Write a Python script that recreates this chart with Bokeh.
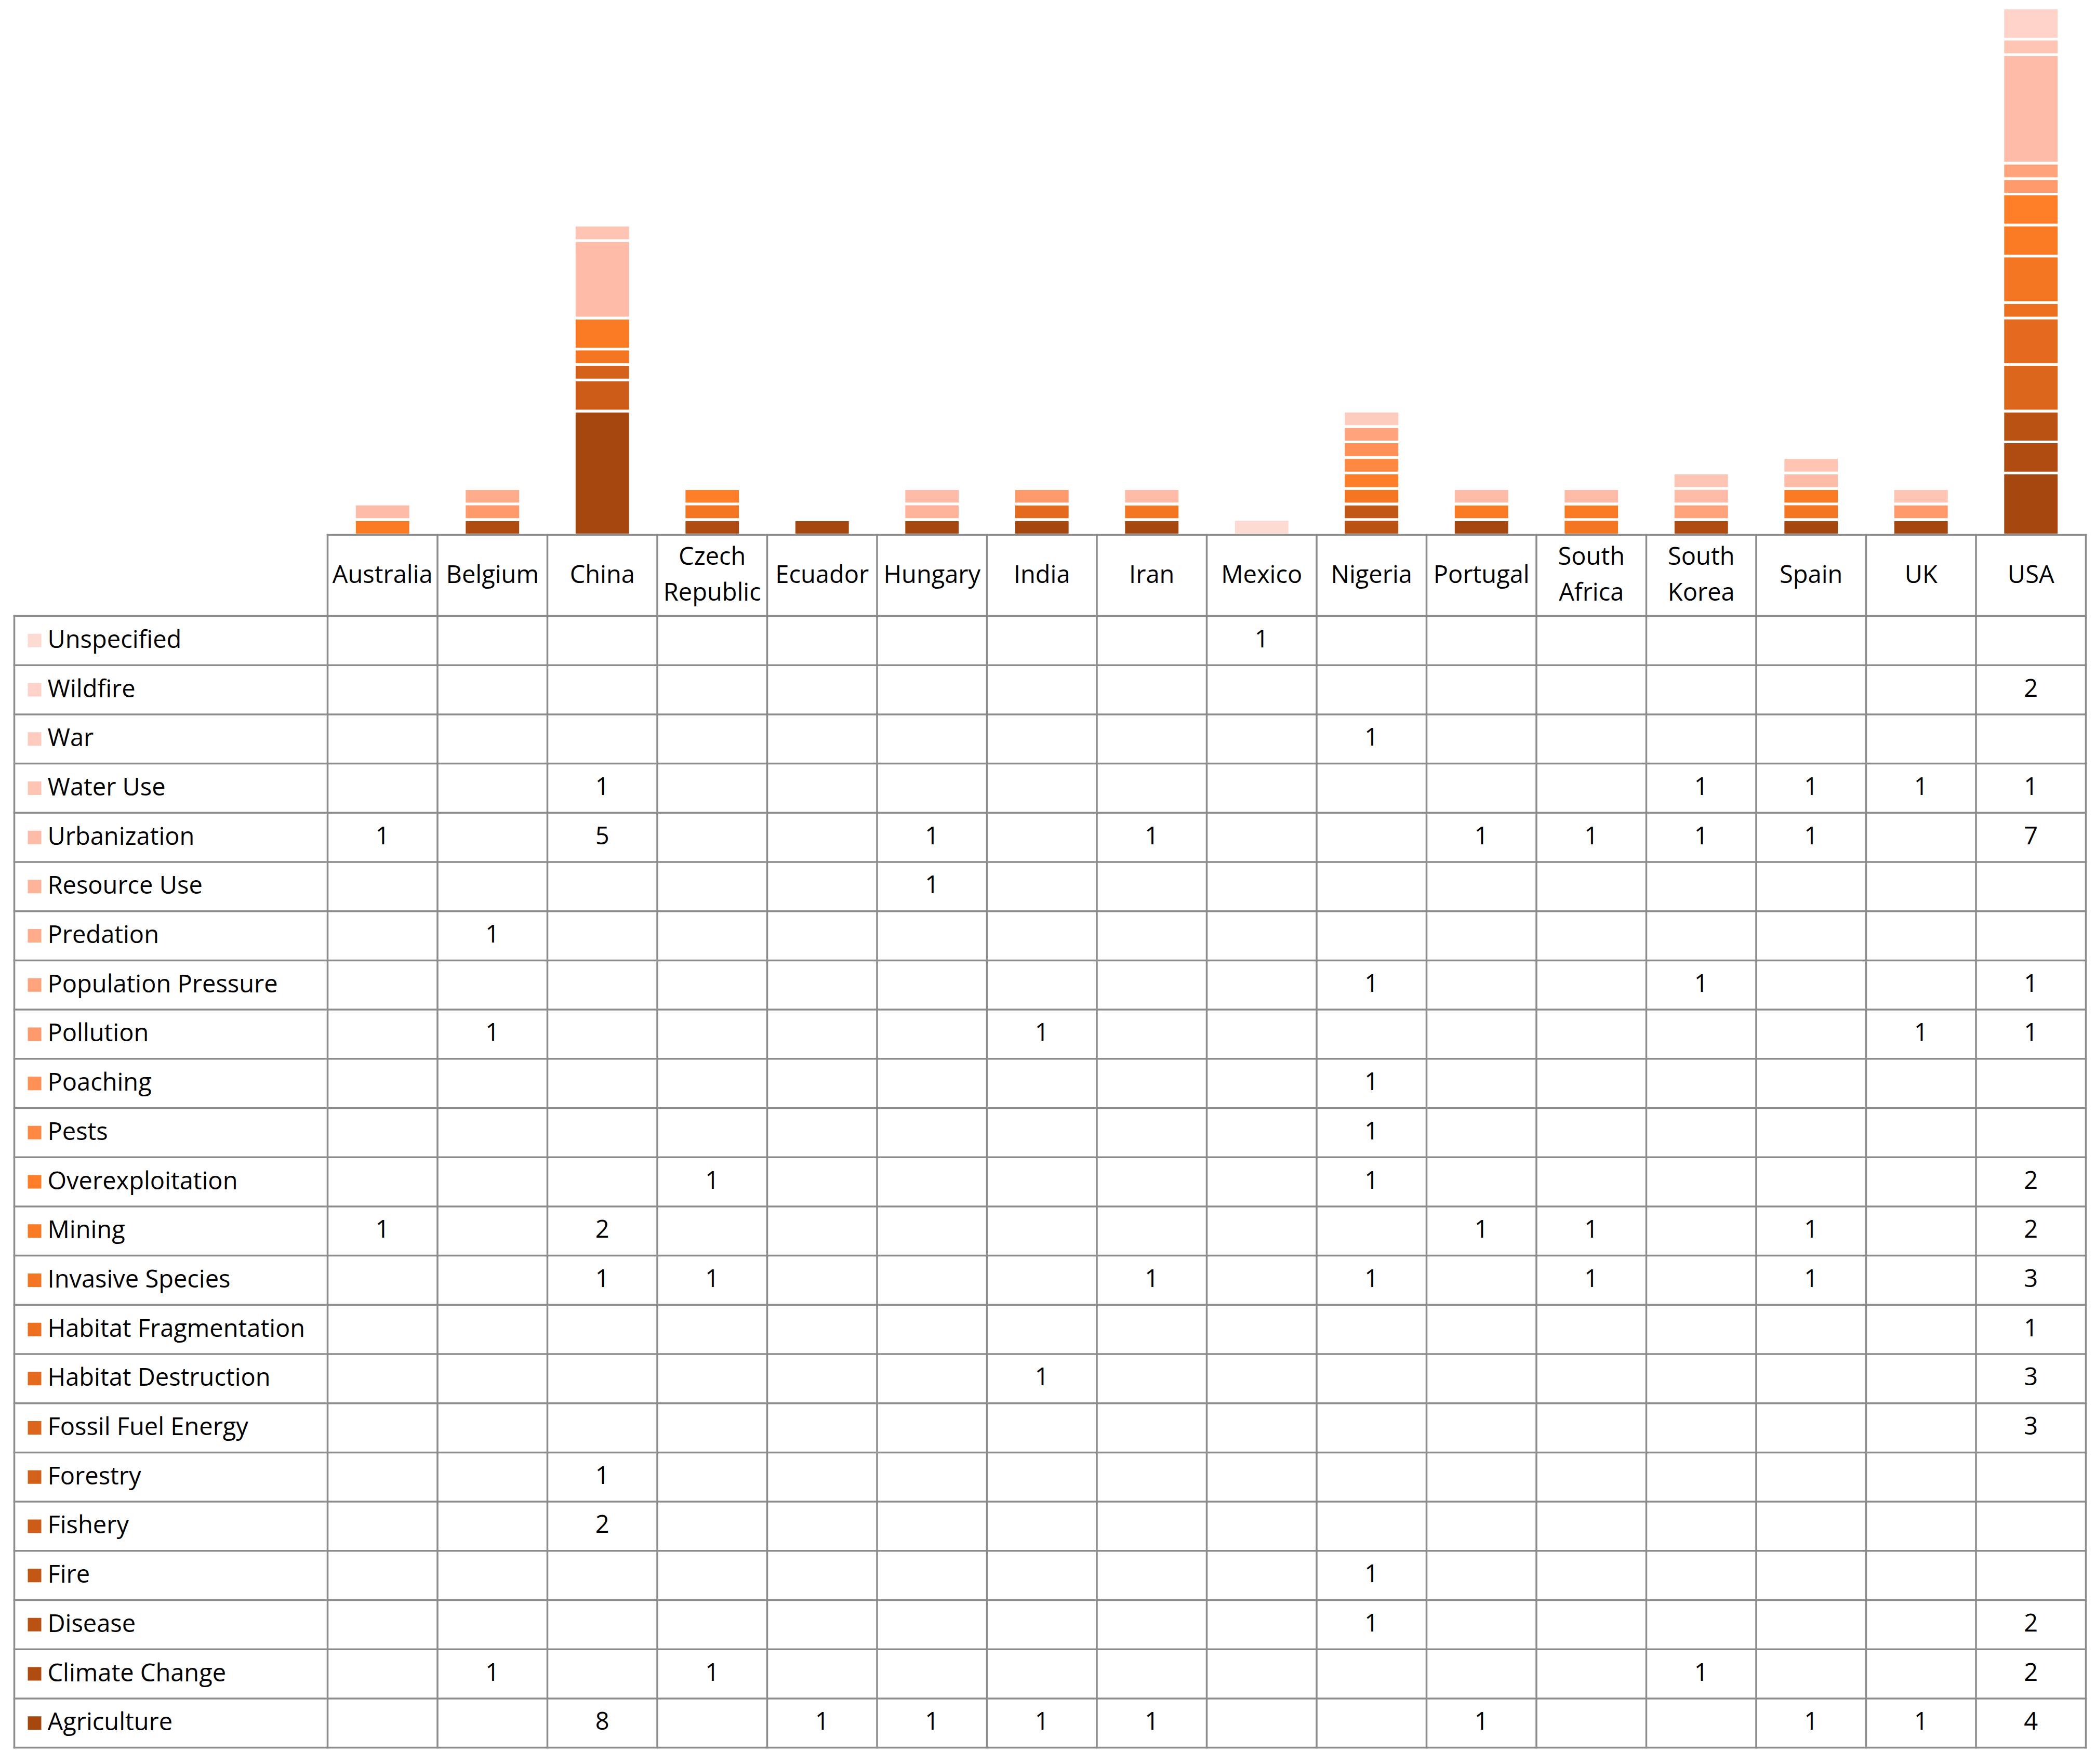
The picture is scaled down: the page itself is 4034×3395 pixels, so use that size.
from bokeh.plotting import figure
from bokeh.models import Range1d, ColumnDataSource
from bokeh.core.properties import value
from bokeh.embed import file_html
from bokeh.resources import INLINE

# ---------------- data ----------------
countries = ["Australia", "Belgium", "China", "Czech Republic", "Ecuador", "Hungary",
             "India", "Iran", "Mexico", "Nigeria", "Portugal", "South Africa",
             "South Korea", "Spain", "UK", "USA"]
header_labels = ["Australia", "Belgium", "China", "Czech\nRepublic", "Ecuador", "Hungary",
                 "India", "Iran", "Mexico", "Nigeria", "Portugal", "South\nAfrica",
                 "South\nKorea", "Spain", "UK", "USA"]

# series listed bottom (first stacked) to top
series_names = ["Agriculture", "Climate Change", "Disease", "Fire", "Fishery", "Forestry",
                "Fossil Fuel Energy", "Habitat Destruction", "Habitat Fragmentation",
                "Invasive Species", "Mining", "Overexploitation", "Pests", "Poaching",
                "Pollution", "Population Pressure", "Predation", "Resource Use",
                "Urbanization", "Water Use", "War", "Wildfire", "Unspecified"]

#                        Au Be Ch Cz Ec Hu In Ir Mx Ng Pt SA SK Sp UK US
agriculture           = [0, 0, 8, 0, 1, 1, 1, 1, 0, 0, 1, 0, 0, 1, 1, 4]
climate_change        = [0, 1, 0, 1, 0, 0, 0, 0, 0, 0, 0, 0, 1, 0, 0, 2]
disease               = [0, 0, 0, 0, 0, 0, 0, 0, 0, 1, 0, 0, 0, 0, 0, 2]
fire                  = [0, 0, 0, 0, 0, 0, 0, 0, 0, 1, 0, 0, 0, 0, 0, 0]
fishery               = [0, 0, 2, 0, 0, 0, 0, 0, 0, 0, 0, 0, 0, 0, 0, 0]
forestry              = [0, 0, 1, 0, 0, 0, 0, 0, 0, 0, 0, 0, 0, 0, 0, 0]
fossil_fuel_energy    = [0, 0, 0, 0, 0, 0, 0, 0, 0, 0, 0, 0, 0, 0, 0, 3]
habitat_destruction   = [0, 0, 0, 0, 0, 0, 1, 0, 0, 0, 0, 0, 0, 0, 0, 3]
habitat_fragmentation = [0, 0, 0, 0, 0, 0, 0, 0, 0, 0, 0, 0, 0, 0, 0, 1]
invasive_species      = [0, 0, 1, 1, 0, 0, 0, 1, 0, 1, 0, 1, 0, 1, 0, 3]
mining                = [1, 0, 2, 0, 0, 0, 0, 0, 0, 0, 1, 1, 0, 1, 0, 2]
overexploitation      = [0, 0, 0, 1, 0, 0, 0, 0, 0, 1, 0, 0, 0, 0, 0, 2]
pests                 = [0, 0, 0, 0, 0, 0, 0, 0, 0, 1, 0, 0, 0, 0, 0, 0]
poaching              = [0, 0, 0, 0, 0, 0, 0, 0, 0, 1, 0, 0, 0, 0, 0, 0]
pollution             = [0, 1, 0, 0, 0, 0, 1, 0, 0, 0, 0, 0, 0, 0, 1, 1]
population_pressure   = [0, 0, 0, 0, 0, 0, 0, 0, 0, 1, 0, 0, 1, 0, 0, 1]
predation             = [0, 1, 0, 0, 0, 0, 0, 0, 0, 0, 0, 0, 0, 0, 0, 0]
resource_use          = [0, 0, 0, 0, 0, 1, 0, 0, 0, 0, 0, 0, 0, 0, 0, 0]
urbanization          = [1, 0, 5, 0, 0, 1, 0, 1, 0, 0, 1, 1, 1, 1, 0, 7]
water_use             = [0, 0, 1, 0, 0, 0, 0, 0, 0, 0, 0, 0, 1, 1, 1, 1]
war                   = [0, 0, 0, 0, 0, 0, 0, 0, 0, 1, 0, 0, 0, 0, 0, 0]
wildfire              = [0, 0, 0, 0, 0, 0, 0, 0, 0, 0, 0, 0, 0, 0, 0, 2]
unspecified           = [0, 0, 0, 0, 0, 0, 0, 0, 1, 0, 0, 0, 0, 0, 0, 0]

series_values = [agriculture, climate_change, disease, fire, fishery, forestry,
                 fossil_fuel_energy, habitat_destruction, habitat_fragmentation,
                 invasive_species, mining, overexploitation, pests, poaching,
                 pollution, population_pressure, predation, resource_use,
                 urbanization, water_use, war, wildfire, unspecified]

# ---------------- styles ----------------
colors = ["#A6470F", "#B04C12", "#BA5214", "#C35716", "#CC5C18", "#D4611A",
          "#DC661C", "#E46B1E", "#EC7020", "#F47522", "#FA7A24", "#FF7E27",
          "#FF8843", "#FF9157", "#FE9A6B", "#FEA37C", "#FEAC8C", "#FEB49A",
          "#FEBCA8", "#FEC4B4", "#FECBBF", "#FED2C8", "#FDDAD2"]

FONT = value("Open Sans")
FSIZE = "47px"
GRID = "#8C8C8C"
GRID_W = 3.5

# ---------------- layout (canvas pixels) ----------------
W, H = 4020, 3385
PX_COL0 = 630.0      # left edge of first country column
COLW = 211.5         # column width
PX_LEFT = 27.0       # left border of table
PX_BASE = 1029.0     # bar baseline / header top
PX_HDR_BOT = 1185.0  # header bottom
ROWH = 94.7          # table row height
UNIT = 29.82         # pixels per bar unit
TXT_DY = 4.0 / ROWH  # small upward nudge for text
n_rows = len(series_names)
n_cols = len(countries)
PX_TBL_BOT = PX_HDR_BOT + n_rows * ROWH

x_range = Range1d(-PX_COL0 / COLW, (W - PX_COL0) / COLW)
y_range = Range1d((PX_TBL_BOT - H) / ROWH, PX_TBL_BOT / ROWH)

p = figure(width=W, height=H, x_range=x_range, y_range=y_range,
           output_backend="svg", toolbar_location=None,
           x_axis_location=None, y_axis_location=None, min_border=0)
p.outline_line_color = None
p.background_fill_color = "white"
p.border_fill_color = "white"
p.xgrid.visible = False
p.ygrid.visible = False
p.extra_y_ranges = {"bars": Range1d(-(H - PX_BASE) / UNIT, PX_BASE / UNIT)}

# ---------------- stacked bars ----------------
data = {"xc": [i + 0.5 for i in range(n_cols)]}
for name, vals in zip(series_names, series_values):
    data[name] = vals
src = ColumnDataSource(data)
p.vbar_stack(series_names, x="xc", width=0.51, source=src, y_range_name="bars",
             fill_color=colors, line_color="white", line_width=5)

# ---------------- table grid ----------------
x_left = (PX_LEFT - PX_COL0) / COLW
hdr_top = n_rows + (PX_HDR_BOT - PX_BASE) / ROWH
x0s, y0s, x1s, y1s = [], [], [], []
for r in range(n_rows + 1):
    x0s.append(x_left); y0s.append(r); x1s.append(n_cols); y1s.append(r)
x0s.append(0); y0s.append(hdr_top); x1s.append(n_cols); y1s.append(hdr_top)
x0s.append(x_left); y0s.append(0); x1s.append(x_left); y1s.append(n_rows)
for c in range(n_cols + 1):
    x0s.append(c); y0s.append(0); x1s.append(c); y1s.append(hdr_top)
p.segment(x0=x0s, y0=y0s, x1=x1s, y1=y1s, line_color=GRID, line_width=GRID_W,
          line_cap="square")

# ---------------- header labels ----------------
hdr_c = (n_rows + hdr_top) / 2.0 + TXT_DY
hx, hy, ht = [], [], []
for i, lab in enumerate(header_labels):
    lines = lab.split("\n")
    if len(lines) == 1:
        hx.append(i + 0.5); hy.append(hdr_c); ht.append(lines[0])
    else:
        hx.append(i + 0.5); hy.append(hdr_c + 0.36); ht.append(lines[0])
        hx.append(i + 0.5); hy.append(hdr_c - 0.36); ht.append(lines[1])
p.text(x=hx, y=hy, text=ht, text_font=FONT, text_font_size=FSIZE,
       text_align="center", text_baseline="middle", text_color="#000000")

# ---------------- row labels + swatches ----------------
ry = [k + 0.5 for k in range(n_rows)]
ty = [k + 0.5 + TXT_DY for k in range(n_rows)]
sw_x = (66 - PX_COL0) / COLW
lab_x = (91 - PX_COL0) / COLW
p.scatter(x=[sw_x] * n_rows, y=ry, marker="square", size=26,
          fill_color=colors, line_color=None)
p.text(x=[lab_x] * n_rows, y=ty, text=series_names, text_font=FONT,
       text_font_size=FSIZE, text_align="left", text_baseline="middle",
       text_color="#000000")

# ---------------- cell values ----------------
cx, cy, ct = [], [], []
for k, vals in enumerate(series_values):
    for j, v in enumerate(vals):
        if v:
            cx.append(j + 0.5); cy.append(k + 0.5 + TXT_DY); ct.append(str(v))
p.text(x=cx, y=cy, text=ct, text_font=FONT, text_font_size=FSIZE,
       text_align="center", text_baseline="middle", text_color="#000000")

open("out.html", "w").write(file_html(p, INLINE))
